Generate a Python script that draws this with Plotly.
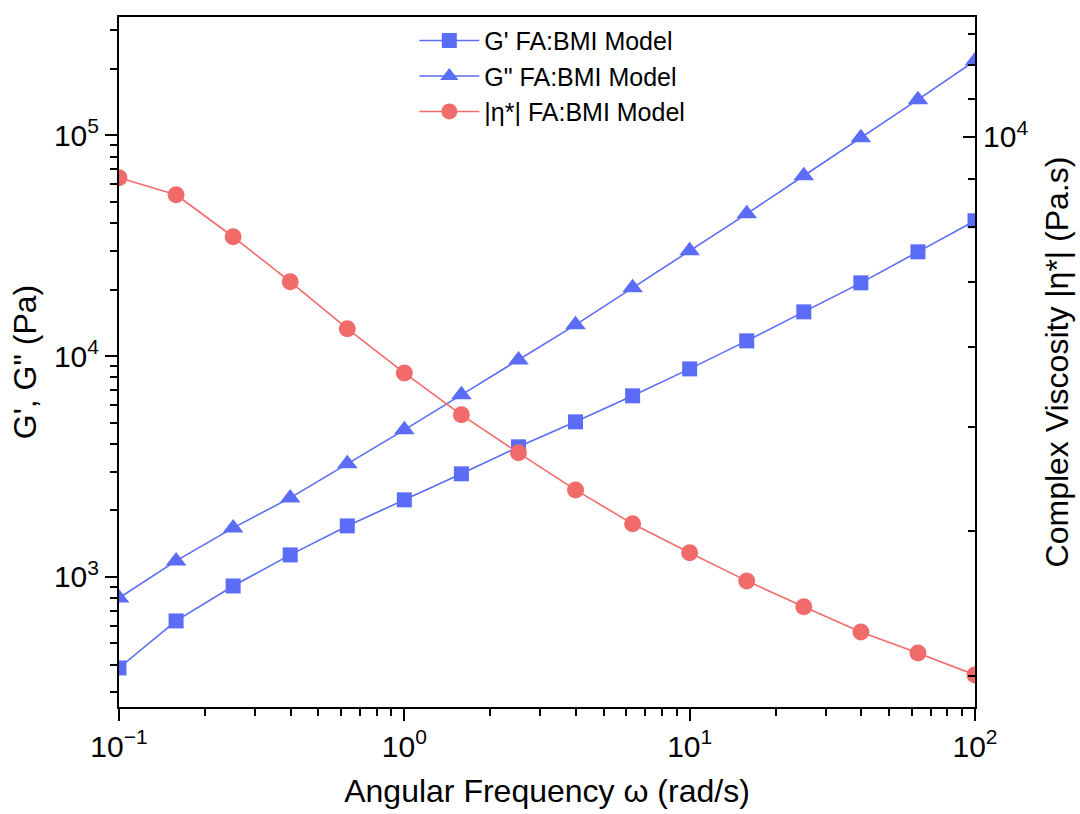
import plotly.graph_objects as go

omega = [0.1, 0.1585, 0.2512, 0.3981, 0.631, 1.0, 1.585, 2.512, 3.981, 6.31,
         10.0, 15.85, 25.12, 39.81, 63.1, 100.0]
g_storage = [387, 632, 910, 1258, 1702, 2233, 2930, 3883, 5037, 6607,
             8750, 11720, 15860, 21460, 29650, 41010]
g_loss = [803, 1182, 1667, 2280, 3251, 4635, 6675, 9610, 13850, 20380,
          29990, 44080, 65540, 97480, 144900, 217600]
eta = [8920, 8505, 7565, 6673, 5853, 5174, 4603, 4140, 3733, 3396,
       3132, 2896, 2694, 2512, 2369, 2228]

names = ["G' FA:BMI Model", 'G" FA:BMI Model', "|η*| FA:BMI Model"]
x_ticks = [0.1, 1, 10, 100]
x_ticktext = ["10<sup>−1</sup>", "10<sup>0</sup>", "10<sup>1</sup>", "10<sup>2</sup>"]
y_ticks = [1e3, 1e4, 1e5]
y_ticktext = ["10<sup>3</sup>", "10<sup>4</sup>", "10<sup>5</sup>"]
y2_ticks = [1e4]
y2_ticktext = ["10<sup>4</sup>"]
y2_minor = [2222, 3333, 4444, 5556, 6667, 7778, 8889, 11111, 12222, 13333]

BLUE = "#5B6CF6"
RED = "#F26B6B"
FONT = "Liberation Sans, Arial, sans-serif"

x_minor = [m * 10 ** e for e in (-1, 0, 1) for m in range(2, 10)]
y_minor = [m * 10 ** e for e in (2, 3, 4, 5) for m in range(2, 10)]

fig = go.Figure()
fig.add_trace(go.Scatter(x=omega, y=g_storage, name=names[0], mode="lines+markers",
                         line=dict(color=BLUE, width=1.6),
                         marker=dict(symbol="square", size=15, color=BLUE)))
fig.add_trace(go.Scatter(x=omega, y=g_loss, name=names[1], mode="lines+markers",
                         line=dict(color=BLUE, width=1.6),
                         marker=dict(symbol="triangle-up", size=18, color=BLUE)))
fig.add_trace(go.Scatter(x=omega, y=eta, name=names[2], mode="lines+markers",
                         yaxis="y2",
                         line=dict(color=RED, width=1.6),
                         marker=dict(symbol="circle", size=17, color=RED)))

fig.update_layout(
    width=1080, height=814,
    margin=dict(l=119, r=105, t=17, b=107),
    paper_bgcolor="white", plot_bgcolor="white",
    font=dict(family=FONT, size=26, color="black"),
    showlegend=True,
    legend=dict(x=0.345, y=0.999, xanchor="left", yanchor="top",
                bgcolor="rgba(0,0,0,0)", font=dict(size=25),
                tracegroupgap=0, itemwidth=60),
    xaxis=dict(type="log", range=[-1, 2], showgrid=False, zeroline=False,
               showline=True, linecolor="black", linewidth=2, mirror=True,
               ticks="outside", ticklen=12, tickwidth=2, tickcolor="black",
               tickvals=x_ticks, ticktext=x_ticktext, tickfont=dict(size=30),
               minor=dict(tickvals=x_minor, ticks="outside", ticklen=7,
                          tickwidth=2, tickcolor="black"),
               title=dict(text="Angular Frequency ω (rad/s)", font=dict(size=32),
                          standoff=18)),
    yaxis=dict(type="log", range=[2.411, 5.5354], showgrid=False, zeroline=False,
               showline=True, linecolor="black", linewidth=2,
               ticks="outside", ticklen=12, tickwidth=2, tickcolor="black",
               tickvals=y_ticks, ticktext=y_ticktext, tickfont=dict(size=30),
               minor=dict(tickvals=y_minor, ticks="outside", ticklen=7,
                          tickwidth=2, tickcolor="black"),
               title=dict(text='G\', G" (Pa)', font=dict(size=32), standoff=8)),
    yaxis2=dict(type="log", range=[3.309, 4.1451], overlaying="y", side="right",
                showgrid=False, zeroline=False,
                showline=True, linecolor="black", linewidth=2,
                ticks="inside", ticklen=12, tickwidth=2, tickcolor="black",
                tickvals=y2_ticks, ticktext=y2_ticktext, tickfont=dict(size=30),
                minor=dict(tickvals=y2_minor, ticks="inside", ticklen=7,
                           tickwidth=2, tickcolor="black"),
                title=dict(text="Complex Viscosity |η*| (Pa.s)", font=dict(size=32),
                           standoff=18)),
)

fig.write_html("out.html")
